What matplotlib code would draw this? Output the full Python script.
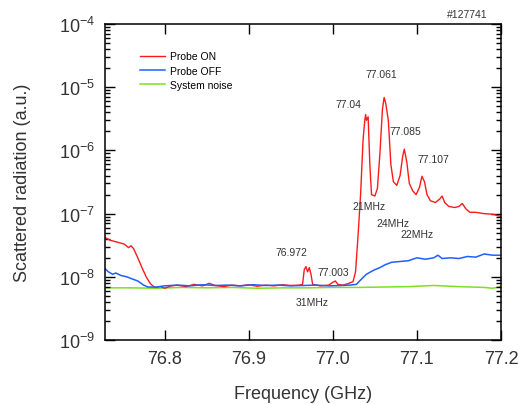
import numpy as np
import matplotlib
matplotlib.use("Agg")
import matplotlib.pyplot as plt
from matplotlib.ticker import LogLocator, FixedLocator, NullFormatter

plt.rcParams['font.family'] = ['Liberation Sans', 'DejaVu Sans']

# Probe ON (red)
on_f = [76.729, 76.735, 76.745, 76.752, 76.757, 76.760, 76.763, 76.768, 76.773, 76.778,
        76.783, 76.788, 76.795, 76.800, 76.808, 76.815, 76.825, 76.835, 76.845, 76.853,
        76.860, 76.870, 76.880, 76.890, 76.900, 76.910, 76.920, 76.930, 76.940, 76.950,
        76.960, 76.964, 76.966, 76.968, 76.970, 76.972, 76.974, 76.976, 76.985, 76.995,
        77.000, 77.003, 77.006, 77.012, 77.018, 77.024, 77.027, 77.030, 77.033, 77.036,
        77.038, 77.039, 77.040, 77.042, 77.044, 77.046, 77.050, 77.053, 77.056, 77.059,
        77.061, 77.063, 77.066, 77.069, 77.072, 77.076, 77.080, 77.083, 77.085, 77.088,
        77.091, 77.095, 77.099, 77.103, 77.106, 77.109, 77.112, 77.116, 77.122, 77.127,
        77.130, 77.133, 77.138, 77.145, 77.150, 77.154, 77.158, 77.163, 77.170, 77.180,
        77.190, 77.200]
on_v = [4.2e-8, 3.8e-8, 3.5e-8, 3.3e-8, 2.9e-8, 3.1e-8, 2.8e-8, 2.0e-8, 1.4e-8, 1.0e-8,
        7.8e-9, 6.8e-9, 7.0e-9, 6.6e-9, 7.2e-9, 7.4e-9, 7.0e-9, 7.6e-9, 7.2e-9, 7.9e-9,
        7.3e-9, 7.0e-9, 7.4e-9, 7.2e-9, 7.5e-9, 7.1e-9, 7.4e-9, 7.2e-9, 7.5e-9, 7.3e-9,
        7.4e-9, 7.6e-9, 1.3e-8, 1.45e-8, 1.2e-8, 1.4e-8, 1.1e-8, 7.6e-9, 7.2e-9, 7.4e-9,
        8.2e-9, 8.6e-9, 7.6e-9, 7.4e-9, 7.8e-9, 8.4e-9, 1.2e-8, 4.5e-8, 2.0e-7, 1.5e-6,
        3.0e-6, 3.7e-6, 3.0e-6, 3.4e-6, 6.0e-7, 2.0e-7, 1.9e-7, 2.5e-7, 9.0e-7, 4.5e-6,
        6.9e-6, 5.5e-6, 3.0e-6, 6.0e-7, 3.2e-7, 2.8e-7, 4.0e-7, 8.0e-7, 1.05e-6, 6.5e-7,
        3.0e-7, 2.3e-7, 2.0e-7, 2.6e-7, 3.9e-7, 3.2e-7, 2.0e-7, 1.6e-7, 1.5e-7, 1.7e-7,
        1.9e-7, 1.5e-7, 1.3e-7, 1.25e-7, 1.3e-7, 1.45e-7, 1.2e-7, 1.05e-7, 1.05e-7, 1.0e-7,
        9.8e-8, 9.0e-8]

# Probe OFF (blue)
off_f = [76.729, 76.733, 76.738, 76.742, 76.748, 76.755, 76.762, 76.768, 76.775, 76.780,
         76.790, 76.800, 76.815, 76.830, 76.845, 76.860, 76.875, 76.890, 76.905, 76.920,
         76.935, 76.950, 76.965, 76.980, 76.995, 77.010, 77.020, 77.028, 77.035, 77.040,
         77.045, 77.050, 77.056, 77.062, 77.070, 77.080, 77.090, 77.100, 77.110, 77.120,
         77.125, 77.130, 77.140, 77.150, 77.160, 77.170, 77.180, 77.190, 77.200]
off_v = [1.35e-8, 1.2e-8, 1.1e-8, 1.15e-8, 1.05e-8, 1.0e-8, 9.2e-9, 8.6e-9, 7.4e-9, 6.9e-9,
         6.9e-9, 7.2e-9, 7.4e-9, 7.2e-9, 7.5e-9, 7.3e-9, 7.4e-9, 7.2e-9, 7.5e-9, 7.3e-9,
         7.4e-9, 7.2e-9, 7.3e-9, 7.4e-9, 7.2e-9, 7.3e-9, 7.4e-9, 7.6e-9, 9.5e-9, 1.1e-8,
         1.2e-8, 1.3e-8, 1.4e-8, 1.55e-8, 1.7e-8, 1.75e-8, 1.8e-8, 2.0e-8, 1.9e-8, 2.0e-8,
         2.2e-8, 1.95e-8, 2.0e-8, 1.95e-8, 2.1e-8, 2.05e-8, 2.3e-8, 2.2e-8, 2.2e-8]

# System noise (green)
noise_f = [76.729, 76.760, 76.790, 76.820, 76.850, 76.880, 76.910, 76.940, 76.970, 77.000,
           77.030, 77.060, 77.090, 77.120, 77.150, 77.180, 77.190, 77.200]
noise_v = [6.7e-9, 6.7e-9, 6.6e-9, 6.8e-9, 6.7e-9, 6.8e-9, 6.6e-9, 6.7e-9, 6.7e-9, 6.8e-9,
           6.8e-9, 6.9e-9, 7.0e-9, 7.3e-9, 7.0e-9, 6.8e-9, 6.6e-9, 7.0e-9]

# annotations: (text, freq, value)
ann_text = ["76.972", "77.003", "31MHz", "77.04", "77.061", "77.085", "77.107",
            "21MHz", "24MHz", "22MHz"]
ann_f = [76.951, 77.000, 76.975, 77.018, 77.058, 77.086, 77.119, 77.043, 77.071, 77.100]
ann_v = [2.5e-8, 1.2e-8, 4.0e-9, 5.4e-6, 1.6e-5, 2.0e-6, 7.2e-7, 1.3e-7, 7.2e-8, 4.8e-8]

x_ticks = [76.8, 76.9, 77.0, 77.1, 77.2]
txt_col = '#333333'

fig = plt.figure(figsize=(5.21, 4.06), dpi=100)
ax = fig.add_axes([0.2015, 0.160, 0.7601, 0.7783])

ax.plot(on_f, on_v, color='#ff1a1a', lw=1.0, label='Probe ON')
ax.plot(off_f, off_v, color='#1f5fff', lw=1.1, label='Probe OFF')
ax.plot(noise_f, noise_v, color='#7ee020', lw=1.1, label='System noise', zorder=1)

ax.set_yscale('log')
ax.set_xlim(76.729, 77.2)
ax.set_ylim(1e-9, 1e-4)
ax.xaxis.set_major_locator(FixedLocator(x_ticks))
ax.yaxis.set_major_locator(LogLocator(base=10, numticks=10))
ax.yaxis.set_minor_locator(LogLocator(base=10, subs=np.arange(2, 10), numticks=10))
ax.yaxis.set_minor_formatter(NullFormatter())

ax.tick_params(which='both', direction='in', top=True, right=True, width=1.0,
               labelcolor=txt_col)
ax.tick_params(which='major', length=7, labelsize=13, pad=7)
ax.tick_params(which='minor', length=3.5)
for s in ax.spines.values():
    s.set_linewidth(1.1)

ax.set_xlabel('Frequency (GHz)', fontsize=13, labelpad=13, color=txt_col)
ax.set_ylabel('Scattered radiation (a.u.)', fontsize=13, labelpad=20, color=txt_col)

for t, f, v in zip(ann_text, ann_f, ann_v):
    ax.text(f, v, t, fontsize=7.5, ha='center', va='center', color=txt_col)

fig.text(0.897, 0.962, '#127741', fontsize=7.5, ha='center', va='center', color=txt_col)

ax.legend(loc='upper left', bbox_to_anchor=(0.075, 0.93), frameon=False, fontsize=7.5,
          handlelength=2.4, handletextpad=0.5, labelspacing=0.42, borderpad=0)

fig.savefig('out.png', dpi=100)
